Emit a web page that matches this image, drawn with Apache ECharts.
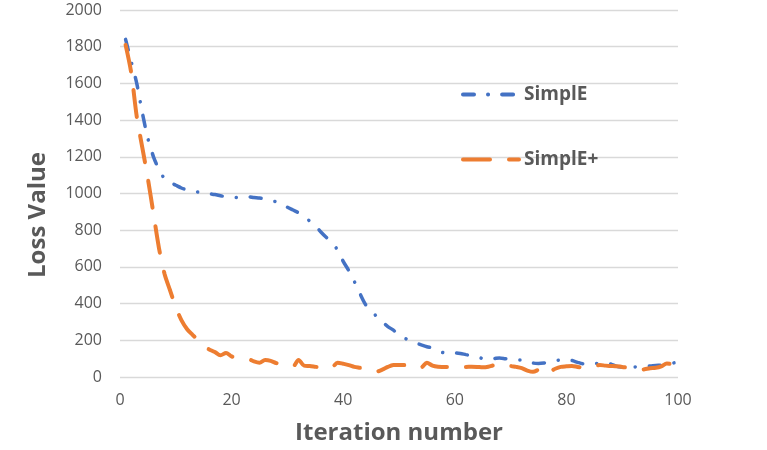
<!DOCTYPE html>
<html>
<head>
<meta charset="utf-8">
<script src="https://cdn.jsdelivr.net/npm/echarts@6/dist/echarts.min.js"></script>
<style>
  html, body { margin: 0; padding: 0; background: #fff; }
  #chart { width: 767px; height: 450px; }
</style>
</head>
<body>
<div id="chart"></div>
<script>
// values, one per iteration (1..100)
const simplE = [
  1840, 1720, 1600, 1440, 1300, 1200, 1130, 1080, 1060, 1045,
  1030, 1020, 1012, 1008, 1005, 998, 995, 988, 982, 980,
  978, 981, 982, 978, 975, 970, 962, 955, 945, 925,
  910, 895, 875, 850, 825, 790, 760, 735, 690, 630,
  580, 520, 455, 395, 360, 330, 300, 275, 255, 230,
  212, 198, 186, 175, 165, 158, 145, 132, 130, 131,
  128, 122, 117, 112, 100, 98, 100, 104, 100, 95,
  93, 93, 85, 76, 74, 76, 80, 88, 93, 95,
  90, 80, 72, 71, 73, 75, 76, 70, 58, 55,
  55, 55, 56, 58, 60, 63, 65, 68, 75, 82
]
const simplEPlus = [
  1810, 1660, 1420, 1250, 1080, 890, 700, 560, 470, 380,
  310, 262, 230, 200, 165, 150, 136, 118, 131, 112,
  105, 100, 98, 85, 78, 92, 88, 76, 68, 60,
  58, 93, 62, 60, 56, 52, 46, 52, 78, 72,
  65, 55, 50, 45, 38, 30, 40, 55, 65, 66,
  65, 64, 50, 52, 78, 62, 56, 55, 54, 56,
  57, 55, 56, 55, 53, 56, 64, 70, 68, 60,
  55, 48, 35, 28, 40, 55, 30, 45, 55, 58,
  60, 55, 50, 48, 58, 65, 62, 60, 58, 55,
  50, 45, 38, 42, 48, 50, 58, 74, 68, 56
]
const seriesNames = ['SimplE', 'SimplE+']
const xTicks = { min: 0, max: 100, step: 20 }
const yTicks = { min: 0, max: 2000, step: 200 }

const toPairs = arr => arr.map((v, i) => [i + 1, v])

const textColor = '#595959'
const font = 'Open Sans'

const chart = echarts.init(document.getElementById('chart'))
const option = {
  animation: false,
  color: ['#4472C4', '#ED7D31'],
  grid: { left: 120, right: 89, top: 10, bottom: 73 },
  legend: {
    orient: 'vertical',
    left: 456,
    top: 80,
    itemWidth: 56,
    itemHeight: 14,
    itemGap: 46,
    itemStyle: { opacity: 0 },
    lineStyle: { width: 4 },
    textStyle: { color: textColor, fontSize: 19, fontWeight: 'bold', fontFamily: font },
    data: seriesNames
  },
  xAxis: {
    type: 'value',
    min: xTicks.min,
    max: xTicks.max,
    interval: xTicks.step,
    name: 'Iteration number',
    nameLocation: 'middle',
    nameGap: 44,
    nameTextStyle: { color: textColor, fontSize: 24, fontWeight: 'bold', fontFamily: font },
    axisLine: { show: false },
    axisTick: { show: false },
    splitLine: { show: false },
    axisLabel: { color: textColor, fontSize: 16, fontFamily: font, margin: 15 }
  },
  yAxis: {
    type: 'value',
    min: yTicks.min,
    max: yTicks.max,
    interval: yTicks.step,
    axisLine: { show: false },
    axisTick: { show: false },
    splitLine: { lineStyle: { color: '#D9D9D9', width: 1.3 } },
    axisLabel: { color: textColor, fontSize: 16, fontFamily: font, margin: 18, formatter: v => String(v) }
  },
  graphic: [{
    type: 'text',
    x: 38,
    y: 215,
    rotation: Math.PI / 2,
    style: {
      text: 'Loss Value',
      fill: textColor,
      font: 'bold 24px "Open Sans"',
      align: 'center',
      verticalAlign: 'middle'
    }
  }],
  series: [
    {
      name: seriesNames[0],
      type: 'line',
      data: toPairs(simplE),
      symbol: 'none',
      smooth: 0.3,
      lineStyle: { width: 3.5, type: [11, 14, 0.1, 14], cap: 'round' }
    },
    {
      name: seriesNames[1],
      type: 'line',
      data: toPairs(simplEPlus),
      symbol: 'none',
      smooth: 0.3,
      lineStyle: { width: 4, type: [27, 19], cap: 'round' }
    }
  ]
}
chart.setOption(option)
</script>
</body>
</html>
